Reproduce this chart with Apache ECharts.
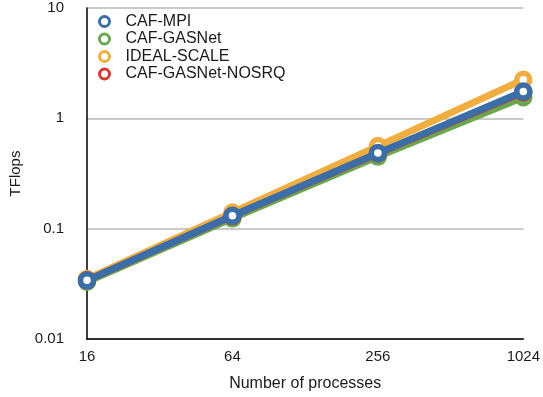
<!DOCTYPE html>
<html>
<head>
<meta charset="utf-8">
<style>
  html, body { margin: 0; padding: 0; background: #fff; }
  #chart { width: 543px; height: 397px; }
</style>
<script src="https://cdn.jsdelivr.net/npm/echarts@6/dist/echarts.min.js"></script>
</head>
<body>
<div id="chart"></div>
<script>
// Process counts along the x axis
const processes = ['16', '64', '256', '1024'];

// Measured throughput in TFlops
const cafMpi = [0.034, 0.131, 0.484, 1.75];
const cafGasnet = [0.033, 0.124, 0.45, 1.55];
const idealScale = [0.035, 0.14, 0.56, 2.24];
const cafGasnetNosrq = [0.034, 0.13, 0.48, 1.72];

const FONT = '"Liberation Sans", Arial, Helvetica, sans-serif';
const COLORS = {
  'CAF-MPI': '#3b6ea8',
  'CAF-GASNet': '#6aa84f',
  'IDEAL-SCALE': '#efae3f',
  'CAF-GASNet-NOSRQ': '#d53b30'
};

// Thick line with ring-shaped markers (white centre, coloured border)
function lineSeries(name, data, z) {
  const color = COLORS[name];
  return {
    name: name,
    type: 'line',
    data: data,
    z: z,
    symbol: 'circle',
    symbolSize: 13,
    showAllSymbol: true,
    color: color,
    lineStyle: { color: color, width: 7 },
    itemStyle: { color: '#ffffff', borderColor: color, borderWidth: 5.5 },
    emphasis: { disabled: true }
  };
}

const legendNames = ['CAF-MPI', 'CAF-GASNet', 'IDEAL-SCALE', 'CAF-GASNet-NOSRQ'];

const chart = echarts.init(document.getElementById('chart'), null, { renderer: 'canvas' });
chart.setOption({
  animation: false,
  backgroundColor: '#ffffff',
  textStyle: { fontFamily: FONT },
  grid: { left: 86, right: 16, top: 8, bottom: 56, containLabel: false },
  legend: {
    orient: 'vertical',
    left: 93,
    top: 8,
    itemWidth: 32,
    itemHeight: 10,
    itemGap: 0.5,
    icon: 'circle',
    data: legendNames.map(function (n) {
      return {
        name: n,
        itemStyle: { color: '#ffffff', borderColor: COLORS[n], borderWidth: 3 }
      };
    }),
    textStyle: { fontFamily: FONT, fontSize: 16, lineHeight: 17, color: '#1a1a1a' }
  },
  xAxis: {
    type: 'category',
    data: processes,
    boundaryGap: false,
    name: 'Number of processes',
    nameLocation: 'middle',
    nameGap: 37,
    nameTextStyle: { fontFamily: FONT, fontSize: 16, color: '#1a1a1a' },
    axisLine: { lineStyle: { color: '#000', width: 1.5 } },
    axisTick: { show: false },
    axisLabel: { fontFamily: FONT, fontSize: 15, color: '#1a1a1a', margin: 10 },
    splitLine: { show: false }
  },
  yAxis: {
    type: 'log',
    logBase: 10,
    min: 0.01,
    max: 10,
    name: 'TFlops',
    nameLocation: 'middle',
    nameGap: 64,
    nameTextStyle: { fontFamily: FONT, fontSize: 15, color: '#1a1a1a' },
    axisLine: { show: true, lineStyle: { color: '#000', width: 1.5 } },
    axisTick: { show: false },
    axisLabel: {
      fontFamily: FONT, fontSize: 15, color: '#1a1a1a', margin: 23,
      formatter: function (v) { return String(+v.toPrecision(3)); }
    },
    splitLine: { show: true, lineStyle: { color: '#b8b8b8', width: 1.5 } }
  },
  series: [
    lineSeries('CAF-MPI', cafMpi, 5),
    lineSeries('CAF-GASNet', cafGasnet, 3),
    lineSeries('IDEAL-SCALE', idealScale, 2),
    lineSeries('CAF-GASNet-NOSRQ', cafGasnetNosrq, 4)
  ]
});
</script>
</body>
</html>
